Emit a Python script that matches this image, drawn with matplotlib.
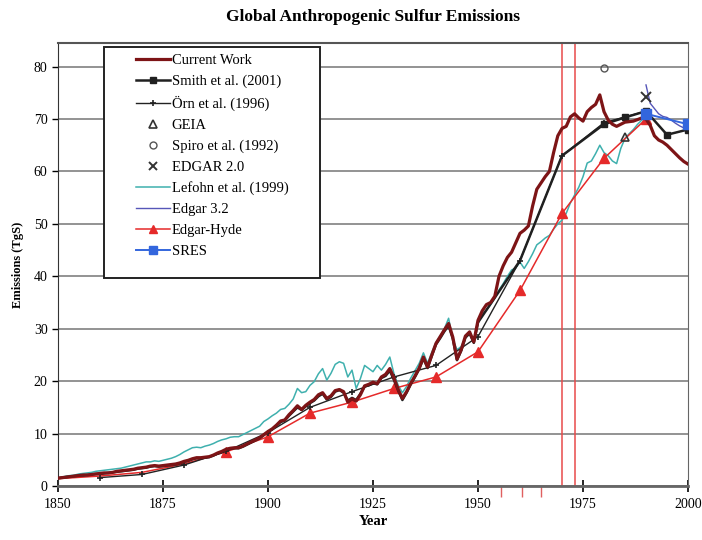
import matplotlib
matplotlib.use("Agg")
from matplotlib import pyplot as plt
from matplotlib.patches import Rectangle
from matplotlib.lines import Line2D

plt.rcParams['font.family'] = ['Liberation Serif', 'DejaVu Serif']

# letna leta za "Current Work"
leta = list(range(1850, 2001))
current_work = [1.5, 1.6, 1.7, 1.8, 1.9, 2.0, 2.1, 2.1, 2.2, 2.3,
                2.4, 2.5, 2.5, 2.6, 2.8, 2.9, 3.0, 3.1, 3.2, 3.4,
                3.5, 3.6, 3.8, 3.9, 3.8, 3.9, 4.0, 4.1, 4.2, 4.4,
                4.7, 4.9, 5.2, 5.4, 5.4, 5.5, 5.6, 5.9, 6.3, 6.6,
                7.0, 7.2, 7.3, 7.3, 7.6, 8.0, 8.4, 8.8, 9.2, 9.8,
                10.4, 10.9, 11.6, 12.4, 12.6, 13.6, 14.4, 15.3, 14.6, 15.4,
                16.0, 16.5, 17.4, 17.8, 16.7, 17.2, 18.2, 18.4, 18.0, 16.0,
                16.6, 16.2, 17.4, 19.1, 19.4, 19.8, 19.5, 20.8, 21.3, 22.4,
                20.6, 18.4, 16.7, 18.0, 19.6, 21.0, 22.5, 24.6, 22.7, 25.0,
                27.2, 28.5, 29.8, 31.0, 28.4, 24.2, 26.0, 28.6, 29.4, 27.5,
                31.6, 33.4, 34.6, 35.0, 36.2, 40.0, 42.0, 43.6, 44.6, 46.4,
                48.2, 48.8, 49.6, 53.4, 56.6, 57.8, 59.0, 60.0, 63.6, 66.8,
                68.2, 68.6, 70.4, 71.0, 70.2, 69.6, 71.4, 72.2, 72.8, 74.6,
                71.4, 69.8, 69.0, 68.6, 69.0, 69.4, 69.5, 69.6, 69.9, 70.2,
                70.0, 68.8, 66.8, 66.0, 65.6, 65.0, 64.2, 63.4, 62.6, 61.9,
                61.4]

# Smith et al. (2001): letno do 1950, potem posamezne tocke
smith_leta = list(range(1850, 1951)) + [1960, 1970, 1980, 1985, 1990, 1995, 2000]
smith = [1.5, 1.6, 1.7, 1.8, 1.9, 2.0, 2.0, 2.1, 2.2, 2.3,
         2.3, 2.4, 2.5, 2.6, 2.7, 2.8, 2.9, 3.0, 3.1, 3.3,
         3.4, 3.5, 3.7, 3.8, 3.7, 3.8, 3.9, 4.0, 4.1, 4.3,
         4.6, 4.8, 5.1, 5.3, 5.3, 5.4, 5.5, 5.8, 6.2, 6.5,
         6.9, 7.1, 7.2, 7.2, 7.5, 7.9, 8.3, 8.7, 9.1, 9.7,
         10.3, 10.8, 11.5, 12.2, 12.5, 13.4, 14.2, 15.0, 14.5, 15.2,
         15.8, 16.3, 17.1, 17.6, 16.5, 17.0, 18.0, 18.3, 17.8, 16.3,
         16.8, 16.4, 17.6, 19.0, 19.2, 19.6, 19.4, 20.6, 21.0, 22.0,
         20.2, 18.2, 16.4, 17.8, 19.4, 20.8, 22.3, 24.3, 22.5, 24.8,
         27.0, 28.2, 29.5, 30.6, 28.1, 24.0, 25.8, 28.3, 29.1, 27.3,
         31.2,
         43.0, 63.0, 69.0, 70.3, 71.5, 67.0, 68.0]

orn_leta = [1860, 1870, 1880, 1890, 1900, 1910, 1920, 1930, 1940, 1950,
            1960, 1970, 1980, 1990]
orn = [1.6, 2.2, 4.0, 6.6, 10.2, 15.0, 18.0, 20.8, 23.0, 28.5,
       43.0, 63.0, 69.3, 71.5]

geia_leta = [1985]
geia = [66.5]
spiro_leta = [1980]
spiro = [79.8]
edgar2_leta = [1990]
edgar2 = [74.2]

lefohn_leta = list(range(1850, 1991))
lefohn = [1.5, 1.7, 1.9, 2.0, 2.1, 2.3, 2.4, 2.5, 2.6, 2.8,
          2.9, 3.0, 3.1, 3.2, 3.3, 3.4, 3.6, 3.8, 4.0, 4.2,
          4.4, 4.6, 4.6, 4.8, 4.7, 4.9, 5.1, 5.3, 5.6, 6.0,
          6.5, 6.9, 7.3, 7.4, 7.3, 7.6, 7.8, 8.1, 8.5, 8.8,
          9.0, 9.3, 9.4, 9.4, 9.8, 10.2, 10.6, 11.0, 11.4, 12.3,
          12.8, 13.4, 13.9, 14.6, 14.8, 15.6, 16.6, 18.6, 17.8, 18.0,
          19.2, 19.9, 21.4, 22.4, 20.2, 21.5, 23.2, 23.7, 23.4, 20.8,
          22.1, 18.6, 20.5, 23.0, 22.4, 21.8, 23.0, 22.1, 23.2, 24.6,
          21.4, 19.2, 17.8, 19.0, 20.6, 22.0, 23.4, 25.4, 23.4, 25.5,
          27.4, 28.6, 30.0, 32.0, 28.0, 26.0, 26.6, 28.4, 29.1, 27.8,
          31.0, 33.0, 33.5, 34.6, 35.8, 37.4, 38.6, 40.0, 41.2, 41.6,
          42.7, 41.5, 42.8, 44.3, 46.0, 46.6, 47.3, 47.8, 49.0, 50.0,
          50.7, 52.0, 54.0, 55.5, 57.0, 59.0, 61.6, 62.0, 63.4, 65.0,
          63.6, 63.0, 62.0, 61.5, 64.4, 66.3, 67.2, 68.0, 69.0, 69.8,
          70.5]

edgar32_leta = list(range(1990, 2001))
edgar32 = [76.5, 73.0, 72.0, 71.0, 70.5, 70.3, 69.8, 69.2, 68.7, 68.3, 68.0]

hyde_leta = [1850, 1860, 1870, 1880, 1890, 1900, 1910, 1920, 1930, 1940,
             1950, 1960, 1970, 1980, 1990]
hyde = [1.4, 1.9, 2.6, 4.2, 6.5, 9.4, 13.9, 16.0, 18.6, 20.8,
        25.6, 37.3, 52.0, 62.5, 70.0]

sres_leta = [1990, 2000]
sres = [71.0, 69.0]

rdece_crte = [1970, 1973]
rdeci_ticki = [1955.5, 1960.5, 1965]

fig = plt.figure(figsize=(7.02, 5.4), dpi=100)
ax = fig.add_axes([58/702, 54/540, 630/702, 443/540])

ax.plot(lefohn_leta, lefohn, color='#3fb0ae', lw=1.1, label='Lefohn et al. (1999)', zorder=3)
ax.plot(hyde_leta, hyde, color='#e52a2a', lw=1.1, marker='^', ms=6.5,
        markevery=list(range(4, len(hyde))), label='Edgar-Hyde', zorder=4)
ax.plot(orn_leta, orn, color='#222222', lw=1.0, marker='+', ms=4, mew=1.2,
        label='Örn et al. (1996)', zorder=4)
ax.plot(smith_leta, smith, color='#202020', lw=1.8, marker='s', ms=5,
        markevery=list(range(len(smith) - 5, len(smith))), label='Smith et al. (2001)', zorder=5)
ax.plot(leta, current_work, color='#7d1416', lw=2.3, label='Current Work', zorder=6)
ax.plot(edgar32_leta, edgar32, color='#5656b8', lw=1.0, label='Edgar 3.2', zorder=6)
ax.plot(sres_leta, sres, color='#3366dd', lw=1.4, marker='s', ms=7, label='SRES', zorder=7)
ax.plot(geia_leta, geia, ls='none', marker='^', ms=6, mfc='none', mec='#333333', mew=1.2,
        label='GEIA', zorder=7)
ax.plot(spiro_leta, spiro, ls='none', marker='o', ms=5, mfc='none', mec='#555555', mew=1.0,
        label='Spiro et al. (1992)', zorder=7)
ax.plot(edgar2_leta, edgar2, ls='none', marker='x', ms=7, mec='#333333', mew=1.4,
        label='EDGAR 2.0', zorder=7)

for l in rdece_crte:
    ax.axvline(l, color='#e84a4a', lw=1.1, zorder=2)
ax.vlines(rdeci_ticki, -0.025, 0, transform=ax.get_xaxis_transform(), color='#e06060',
          lw=1.0, clip_on=False)

ax.set_xlim(1850, 2000)
ax.set_ylim(0, 84.5)
ax.set_xticks([1850, 1875, 1900, 1925, 1950, 1975, 2000])
ax.set_yticks(range(0, 81, 10))
ax.yaxis.grid(True, color='#8a8a8a', lw=1.3)
ax.set_axisbelow(True)
ax.tick_params(axis='x', direction='inout', length=9, width=1.2, labelsize=10, pad=4)
ax.tick_params(axis='y', direction='out', length=4, width=1.0, labelsize=10)
ax.spines['left'].set_color('#333333')
ax.spines['bottom'].set_color('#666666')
ax.spines['bottom'].set_linewidth(2.0)
ax.spines['top'].set_color('#555555')
ax.spines['top'].set_linewidth(1.5)
ax.spines['right'].set_color('#666666')

ax.set_title('Global Anthropogenic Sulfur Emissions', fontsize=12.5, fontweight='bold', pad=16)
ax.set_xlabel('Year', fontsize=10.5, fontweight='bold', labelpad=3)
ax.set_ylabel('Emissions (TgS)', fontsize=9, fontweight='bold', labelpad=7)

# legenda: okvir posebej, vnosi brez okvirja
ax.add_patch(Rectangle((0.073, 0.4695), 0.343, 0.5215, transform=ax.transAxes,
                       fill=True, fc='white', ec='#222222', lw=1.4, zorder=8))
red = ['Current Work', 'Smith et al. (2001)', 'Örn et al. (1996)', 'GEIA', 'Spiro et al. (1992)',
       'EDGAR 2.0', 'Lefohn et al. (1999)', 'Edgar 3.2', 'Edgar-Hyde', 'SRES']
h, lab = ax.get_legend_handles_labels()
slovar = dict(zip(lab, h))
handles = []
for r in red:
    x = slovar[r]
    nov = Line2D([], [], color=x.get_color(), lw=x.get_linewidth(), ls=x.get_linestyle(),
                 marker=x.get_marker(), ms=min(x.get_markersize(), 6), mfc=x.get_markerfacecolor(),
                 mec=x.get_markeredgecolor(), mew=x.get_markeredgewidth())
    handles.append(nov)
leg = ax.legend(handles, red, loc='upper left', bbox_to_anchor=(0.124, 0.975), frameon=False,
                fontsize=10.5, borderpad=0, borderaxespad=0, labelspacing=0.52,
                handlelength=2.3, handletextpad=0.15)
leg.set_zorder(9)

fig.savefig('out.png', dpi=100)
